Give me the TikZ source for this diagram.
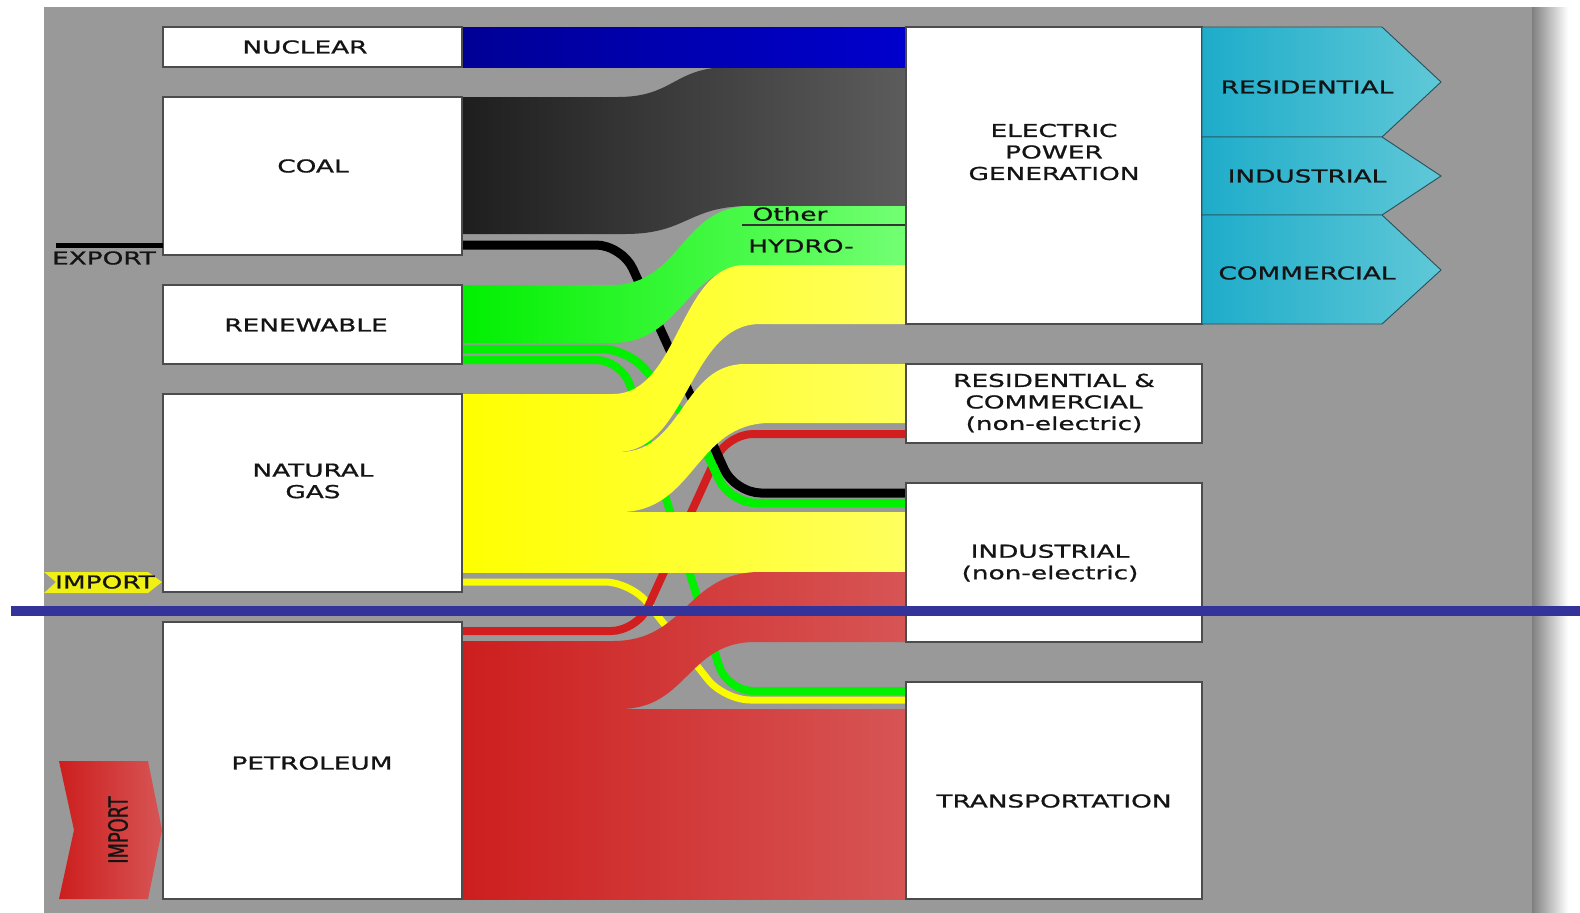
\documentclass[tikz,border=0pt]{standalone}
\usepackage{graphicx}
\usepackage{fontspec}
\setmainfont{DejaVu Sans}[FakeStretch=1.48, FakeBold=1]
\newfontfamily\plainfont{DejaVu Sans}[FakeBold=1]
\newcommand\lblfont{\fontsize{17.8}{21.5}\selectfont}
\definecolor{panel}{RGB}{153,153,153}
\definecolor{nucA}{RGB}{0,0,150}
\definecolor{nucB}{RGB}{0,0,205}
\definecolor{coalA}{RGB}{30,30,30}
\definecolor{coalB}{RGB}{92,92,92}
\definecolor{grnA}{RGB}{0,240,0}
\definecolor{grnB}{RGB}{115,255,115}
\definecolor{yelA}{RGB}{255,255,0}
\definecolor{yelB}{RGB}{255,255,95}
\definecolor{redA}{RGB}{205,30,30}
\definecolor{redB}{RGB}{215,85,85}
\definecolor{cyA}{RGB}{30,172,202}
\definecolor{cyB}{RGB}{95,200,215}
\definecolor{cyD}{RGB}{40,80,90}
\definecolor{barblue}{RGB}{51,51,153}
\definecolor{lnred}{RGB}{210,30,30}
\definecolor{lngreen}{RGB}{0,240,0}
\definecolor{lnyellow}{RGB}{250,250,0}
\definecolor{impyel}{RGB}{240,240,20}
\definecolor{txt}{RGB}{20,20,20}
% ribbon: #1 style, #2 yL top, #3 yL bottom, #4 yR top, #5 yR bottom,
% #6/#7 top curve x-range, #8/#9 bottom curve x-range
\newcommand\ribbon[9]{%
  \shade[#1] (462,#2) -- (#6,#2)
    .. controls ({(#6+#7)/2},#2) and ({(#6+#7)/2},#4) .. (#7,#4)
    -- (906,#4) -- (906,#5) -- (#9,#5)
    .. controls ({(#8+#9)/2},#5) and ({(#8+#9)/2},#3) .. (#8,#3)
    -- (462,#3) -- cycle;}
\begin{document}
\begin{tikzpicture}[x=1pt,y=-1pt,
  box/.style={draw=black!70, line width=1.2pt, fill=white, inner sep=0pt, outer sep=0pt, minimum width=299pt},
  rbox/.style={box, minimum width=296pt},
  lbl/.style={inner sep=0pt, align=center, font=\lblfont, text=txt},
  flowline/.style={line width=8pt, rounded corners=26pt},
  cyarrow/.style={left color=cyA, right color=cyB, draw=cyD, line width=0.9pt},
]
\useasboundingbox (0,0) rectangle (1580,913);
\fill[white] (0,0) rectangle (1580,913);
\shade[left color=black!50, right color=white] (1532,7) rectangle (1568,913);
\fill[panel] (44,7) rectangle (1532,913);

% thin flow lines (behind the bands)
\draw[flowline, lnyellow, line width=7pt] (462,582) -- (631,582) -- (724,700) -- (906,700);
\draw[flowline, lngreen] (462,360) -- (622,360) -- (727,691) -- (906,691);
\draw[flowline, lnred] (462,631) -- (637,631) -- (727,434) -- (906,434);
\draw[flowline, black, line width=9pt] (462,245) -- (622,245) -- (735,493) -- (906,493);
\draw[flowline, lngreen, line width=8.5pt] (462,349) -- (628,349) -- (696,430) -- (730,503) -- (906,503);

% bands
\ribbon{left color=coalA, right color=coalB}{97}{234}{67}{206}{618}{730}{625}{750}
\shade[left color=nucA, right color=nucB] (462,27) rectangle (906,67);
\ribbon{left color=grnA, right color=grnB}{285}{343}{206}{265}{612}{750}{612}{755}
\ribbon{left color=yelA, right color=yelB}{394}{452}{265}{324}{613}{745}{617}{760}
\ribbon{left color=yelA, right color=yelB}{452}{512}{364}{423}{620}{745}{620}{770}
\shade[left color=yelA, right color=yelB] (462,512) rectangle (906,572);
\ribbon{left color=redA, right color=redB}{641}{709}{572}{642}{613}{760}{620}{755}
\shade[left color=redA, right color=redB] (462,709) rectangle (906,899);

% Other / HYDRO- split
\coordinate (othL) at (742,225);
\coordinate (othR) at (906,225);
\draw[black!80, line width=1.3pt] (othL) -- (othR);
\node[lbl] (tother) at (790,214) {Other};
\node[lbl] (thydro) at (801,246) {HYDRO-};

% source boxes
\node[box, minimum height=40pt] (nuclear) at (312.5,47) {};
\node[box, minimum height=158pt] (coal) at (312.5,176) {};
\node[box, minimum height=79pt] (renew) at (312.5,324.5) {};
\node[box, minimum height=198pt] (natgas) at (312.5,493) {};
\node[box, minimum height=277pt] (petrol) at (312.5,760.5) {};
\node[lbl] (tnuclear) at (305,47) {NUCLEAR};
\node[lbl] (tcoal) at (313,166) {COAL};
\node[lbl] (trenew) at (306,325) {RENEWABLE};
\node[lbl] (tnatgas) at (313,481) {NATURAL\\GAS};
\node[lbl] (tpetrol) at (312,763) {PETROLEUM};

% sink boxes
\node[rbox, minimum height=297pt] (elec) at (1054,175.5) {};
\node[rbox, minimum height=79pt] (rescom) at (1054,403.5) {};
\node[rbox, minimum height=159pt] (indus) at (1054,562.5) {};
\node[rbox, minimum height=217pt] (trans) at (1054,790.5) {};
\node[lbl] (telec) at (1054,152) {ELECTRIC\\POWER\\GENERATION};
\node[lbl] (trescom) at (1054,403) {RESIDENTIAL \&\\COMMERCIAL\\(non-electric)};
\node[lbl] (tindus) at (1050,563) {INDUSTRIAL\\(non-electric)};
\node[lbl] (ttrans) at (1054,801) {TRANSPORTATION};

% electricity end uses
\shadedraw[cyarrow] (1202,27) -- (1382,27) -- (1441,82) -- (1382,137) -- (1202,137) -- cycle;
\shadedraw[cyarrow] (1202,137) -- (1382,137) -- (1441,176) -- (1382,215) -- (1202,215) -- cycle;
\shadedraw[cyarrow] (1202,215) -- (1382,215) -- (1441,270) -- (1382,324) -- (1202,324) -- cycle;
\node[lbl] (tres) at (1307,87) {RESIDENTIAL};
\node[lbl] (tind) at (1307,176) {INDUSTRIAL};
\node[lbl] (tcom) at (1307,273) {COMMERCIAL};

% export / import
\coordinate (expL) at (56,245);
\draw[black, line width=5pt] (expL) -- (expL -| coal.west);
\node[lbl] (texport) at (104,258) {EXPORT};
\fill[impyel] (44,572) -- (148,572) -- (162,582) -- (148,593) -- (44,593) -- (56,582) -- cycle;
\node[lbl] (timpy) at (105,582) {IMPORT};
\shade[left color=redA, right color=redB] (59,761) -- (148,761) -- (162,830) -- (148,899) -- (59,899) -- (74,830) -- cycle;
\node[inner sep=0pt, rotate=90, font=\plainfont\fontsize{17.8}{20}\selectfont, text=txt] (timpr) at (118,830) {\scalebox{1}[1.48]{IMPORT}};

% overlay bar
\coordinate (barL) at (11,611);
\coordinate (barR) at (1580,611);
\draw[barblue, line width=10pt] (barL) -- (barR);
\end{tikzpicture}
\end{document}
